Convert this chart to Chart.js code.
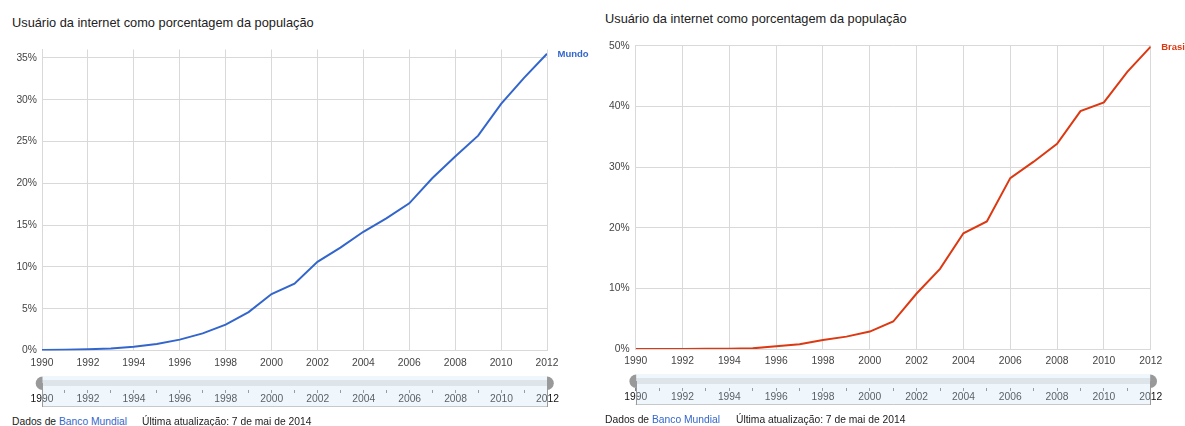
<!DOCTYPE html>
<html><head><meta charset="utf-8">
<script src="https://cdn.jsdelivr.net/npm/chart.js@4.4.1/dist/chart.umd.min.js"></script>
<style>
html,body{margin:0;padding:0;background:#fff;width:1185px;height:426px;overflow:hidden;position:relative;font-family:"Liberation Sans",Arial,sans-serif;}
.t{position:absolute;white-space:nowrap;color:#222;}
.title{font-size:12.8px;line-height:16px;}
.foot{font-size:10.3px;line-height:13px;}
.link{color:#3366cc;}
canvas{position:absolute;}
</style></head><body>
<div class="t title" style="left:12px;top:15px">Usuário da internet como porcentagem da população</div>
<div class="t title" style="left:605px;top:11px">Usuário da internet como porcentagem da população</div>
<canvas id="c1" style="left:0;top:0" width="590" height="372"></canvas>
<canvas id="c2" style="left:590px;top:0" width="595" height="372"></canvas>
<canvas id="s1" style="left:0;top:370px" width="590" height="42"></canvas>
<canvas id="s2" style="left:590px;top:368px" width="595" height="42"></canvas>
<div class="t foot" style="left:12px;top:415px">Dados de <span class="link">Banco Mundial</span></div>
<div class="t foot" style="left:142px;top:415px">Última atualização: 7 de mai de 2014</div>
<div class="t foot" style="left:605px;top:413px">Dados de <span class="link">Banco Mundial</span></div>
<div class="t foot" style="left:736px;top:413px">Última atualização: 7 de mai de 2014</div>
<script>
const years = [1990,1991,1992,1993,1994,1995,1996,1997,1998,1999,2000,2001,2002,2003,2004,2005,2006,2007,2008,2009,2010,2011,2012];
const mundo = [0.05,0.08,0.15,0.25,0.45,0.78,1.3,2.05,3.1,4.6,6.75,8.0,10.6,12.3,14.2,15.8,17.6,20.6,23.2,25.7,29.5,32.6,35.5];
const brasil = [0,0.01,0.02,0.04,0.04,0.11,0.45,0.79,1.48,2.04,2.87,4.53,9.15,13.21,19.07,21.02,28.18,30.88,33.83,39.22,40.65,45.69,49.85];
const seriesNames = ['Mundo','Brasil'];
const xTickYears = [1990,1992,1994,1996,1998,2000,2002,2004,2006,2008,2010,2012];
const mundoYTicks = [0,5,10,15,20,25,30,35];
const brasilYTicks = [0,10,20,30,40,50];

const FONT = '"Liberation Sans", Arial, sans-serif';
const GRID = '#d9d9d9';

const endLabel = {
  id: 'endLabel',
  afterDatasetsDraw(chart) {
    const ds = chart.data.datasets[0];
    const meta = chart.getDatasetMeta(0);
    const p = meta.data[meta.data.length - 1];
    const ctx = chart.ctx;
    ctx.save();
    ctx.font = 'bold 9.5px ' + FONT;
    ctx.fillStyle = ds.borderColor;
    ctx.textBaseline = 'middle';
    ctx.textAlign = 'left';
    ctx.fillText(ds.label, p.x + 10.5, p.y + 0.7);
    ctx.restore();
  }
};

function mainChart(id, values, name, color, yTicks, yMax, geo) {
  return new Chart(document.getElementById(id), {
    type: 'line',
    data: { datasets: [{
      label: name,
      data: years.map((y, i) => ({ x: y, y: values[i] })),
      borderColor: color, borderWidth: 2, pointRadius: 0, tension: 0, fill: false
    }]},
    options: {
      responsive: false, animation: false, devicePixelRatio: 1,
      layout: { autoPadding: false, padding: { left: 0, right: geo.padR, top: geo.top, bottom: 0 } },
      plugins: { legend: { display: false }, tooltip: { enabled: false } },
      scales: {
        x: {
          type: 'linear', min: 1990, max: 2012,
          afterBuildTicks: s => { s.ticks = xTickYears.map(v => ({ value: v })); },
          afterFit: s => { s.height = geo.xH; },
          grid: { color: GRID, drawTicks: false }, border: { color: GRID },
          ticks: { padding: 6, color: '#444', font: { family: FONT, size: 10.3 }, maxRotation: 0, autoSkip: false, callback: v => String(v) }
        },
        y: {
          type: 'linear', min: 0, max: yMax,
          afterBuildTicks: s => { s.ticks = yTicks.map(v => ({ value: v })); },
          afterFit: s => { s.width = geo.yW; },
          grid: { color: GRID, drawTicks: false }, border: { color: GRID },
          ticks: { padding: geo.yPad, color: '#444', font: { family: FONT, size: 10.3 }, callback: v => v + '%' }
        }
      }
    },
    plugins: [endLabel]
  });
}

const sliderDeco = {
  id: 'sliderDeco',
  beforeDraw(chart) {
    const ctx = chart.ctx, a = chart.chartArea;
    ctx.save();
    ctx.fillStyle = '#e4e2e3';
    ctx.fillRect(a.left, a.top + 4, a.right - a.left, 6);
    ctx.restore();
  },
  afterDraw(chart) {
    const ctx = chart.ctx, a = chart.chartArea;
    const top = a.top, h = 31, bottom = top + h;
    ctx.save();
    ctx.fillStyle = 'rgba(209,232,246,0.35)';
    ctx.fillRect(a.left, top, a.right - a.left, h);
    ctx.strokeStyle = '#c8c8c8';
    ctx.lineWidth = 1;
    ctx.beginPath();
    ctx.moveTo(a.left, bottom - 0.5); ctx.lineTo(a.right, bottom - 0.5);
    ctx.stroke();
    ctx.strokeStyle = '#9a9a9a';
    ctx.beginPath();
    ctx.moveTo(Math.round(a.left) + 0.5, top + 7); ctx.lineTo(Math.round(a.left) + 0.5, bottom);
    ctx.moveTo(Math.round(a.right) - 0.5, top + 7); ctx.lineTo(Math.round(a.right) - 0.5, bottom);
    ctx.stroke();
    ctx.fillStyle = '#999';
    ctx.beginPath();
    ctx.arc(a.left + 0.5, top + 7.2, 6.8, Math.PI / 2, Math.PI * 1.5);
    ctx.closePath(); ctx.fill();
    ctx.beginPath();
    ctx.arc(a.right - 0.5, top + 7.2, 6.8, -Math.PI / 2, Math.PI / 2);
    ctx.closePath(); ctx.fill();
    ctx.restore();
  }
};

function slider(id, geo) {
  return new Chart(document.getElementById(id), {
    type: 'line',
    data: { datasets: [] },
    options: {
      responsive: false, animation: false, devicePixelRatio: 1,
      layout: { autoPadding: false, padding: { left: geo.l, right: geo.r, top: 6, bottom: 0 } },
      plugins: { legend: { display: false }, tooltip: { enabled: false } },
      scales: {
        x: {
          type: 'linear', min: 1990, max: 2012,
          afterBuildTicks: s => { s.ticks = years.map(v => ({ value: v })); },
          afterFit: s => { s.height = 22; },
          grid: { drawOnChartArea: false, drawTicks: true, tickLength: 3, color: '#777' },
          border: { display: false },
          ticks: { padding: 0, autoSkip: false, maxRotation: 0, color: '#111', font: { family: FONT, size: 10.3 },
                   callback: v => xTickYears.includes(v) ? String(v) : '' }
        },
        y: { display: false, min: 0, max: 1 }
      }
    },
    plugins: [sliderDeco]
  });
}

mainChart('c1', mundo, seriesNames[0], '#3366cc', mundoYTicks, 36, { padR: 43, top: 49.5, xH: 21.5, yW: 42, yPad: 5 });
mainChart('c2', brasil, seriesNames[1], '#dc3912', brasilYTicks, 50, { padR: 34.3, top: 45.7, xH: 23, yW: 45.7, yPad: 6 });
slider('s1', { l: 42, r: 42.5 });
slider('s2', { l: 45.7, r: 34.3 });
</script>
</body></html>
